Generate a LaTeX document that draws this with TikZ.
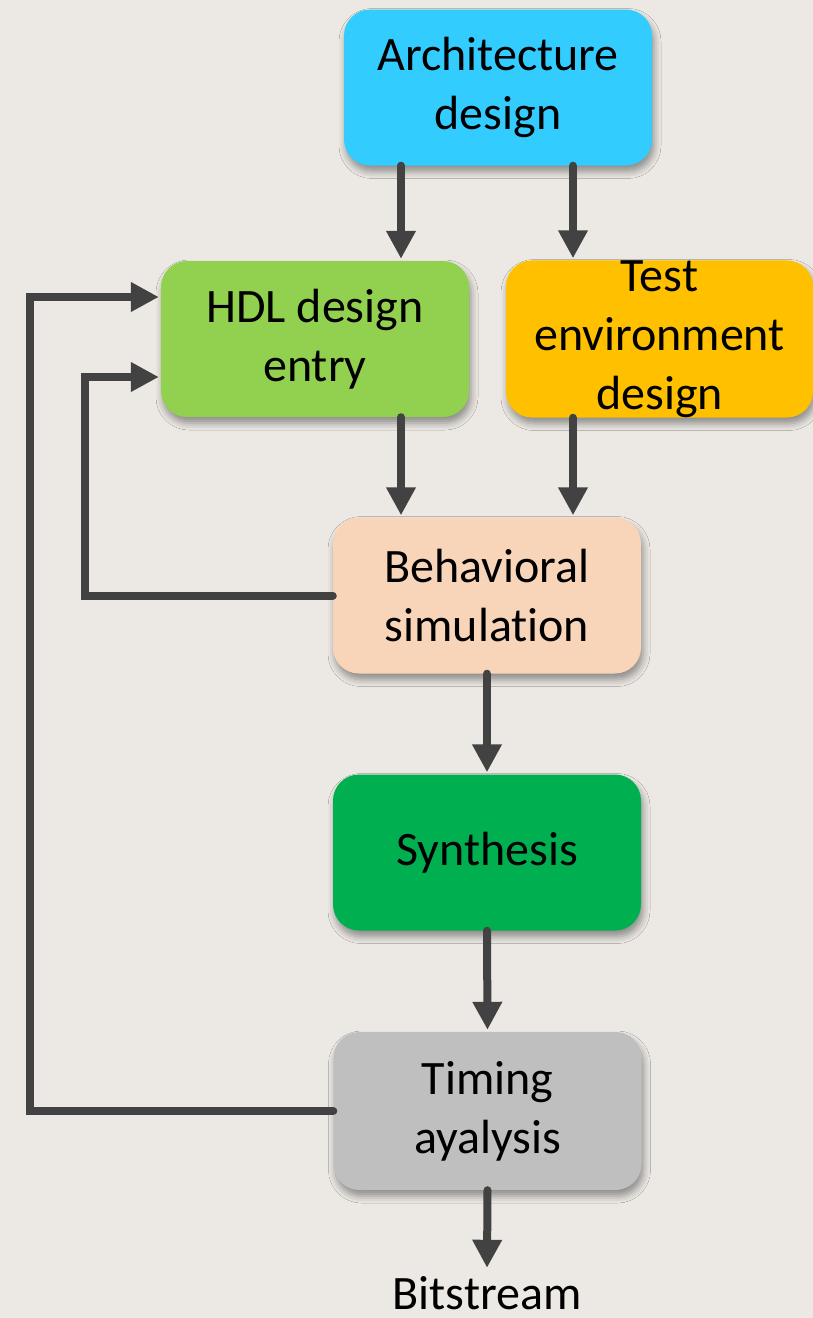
\documentclass[tikz,border=0pt]{standalone}
\usepackage{fontspec}
\setmainfont[Ligatures=NoCommon]{Carlito}
\usetikzlibrary{arrows.meta,calc,shadows.blur}
\definecolor{paper}{HTML}{ECE9E4}
\definecolor{wire}{HTML}{424242}
\definecolor{cArch}{HTML}{33CCFF}
\definecolor{cHdl}{HTML}{92D050}
\definecolor{cTest}{HTML}{FFC000}
\definecolor{cBeh}{HTML}{F8D5B8}
\definecolor{cSyn}{HTML}{00B050}
\definecolor{cTim}{HTML}{BFBFBF}
\tikzset{
  stage/.style={rectangle, rounded corners=26pt, minimum width=308pt, minimum height=156pt,
    inner sep=0pt, align=center, font=\fontsize{48}{59}\selectfont,
    blur shadow={shadow xshift=2pt, shadow yshift=-6pt, shadow blur radius=7pt, shadow opacity=40}},
  flow/.style={draw=wire, line width=8pt, line cap=round, line join=miter,
    -{Triangle[length=28pt, width=28pt]}, shorten >=2pt},
}
\begin{document}
\begin{tikzpicture}[x=1pt, y=-1pt]
\fill[paper] (0,0) rectangle (813,1318);
\useasboundingbox (0,0) rectangle (813,1318);

\node[stage, fill=cArch] (arch) at (498,87.5) {Architecture\\design};
\node[stage, fill=cHdl]  (hdl)  at (315,339) {HDL design\\entry};
\node[stage, fill=cTest, minimum width=307pt] (test) at (659.5,339) {Test\\environment\\design};
\node[stage, fill=cBeh]  (beh)  at (487,595.5) {Behavioral\\simulation};
\node[stage, fill=cSyn]  (syn)  at (487,852.5) {Synthesis};
\node[stage, fill=cTim, minimum height=158pt] (tim) at (487.5,1111) {Timing\\ayalysis};
\node[anchor=base, inner sep=0pt, font=\fontsize{48}{59}\selectfont] (bit) at (487,1309) {Bitstream};

% forward flow
\draw[flow] (arch.south -| 401,0) -- (hdl.north -| 401,0);
\draw[flow] (arch.south -| 573,0) -- (test.north -| 573,0);
\draw[flow] (hdl.south -| 401,0) -- (beh.north -| 401,0);
\draw[flow] (test.south -| 573,0) -- (beh.north -| 573,0);
\draw[flow] (beh.south) -- (syn.north);
\draw[flow] (syn.south) -- (tim.north);
\draw[flow] (tim.south) -- ($(bit.north)+(0,-6)$);

% feedback loops into HDL entry
\draw[flow] (beh.west) -| (85,377) -- ($(hdl.west)+(0,38)$);
\draw[flow] (tim.west) -| (30,297) -- ($(hdl.west)+(0,-42)$);
\end{tikzpicture}
\end{document}
